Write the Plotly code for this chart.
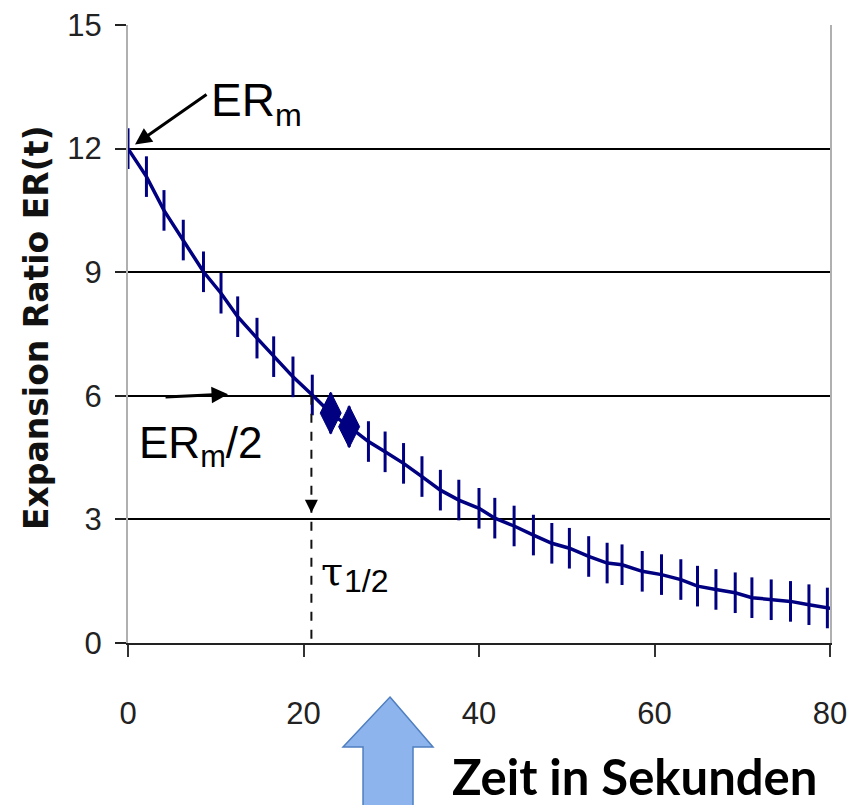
import plotly.graph_objects as go

# ---- data ----
time_s = [0, 2.1, 4.1, 6.3, 8.6, 10.6, 12.5, 14.7, 16.6, 18.8, 21.0, 23.1, 25.2, 27.4,
          29.3, 31.4, 33.5, 35.6, 37.7, 40.0, 41.8, 44.0, 46.2, 48.3, 50.3, 52.5, 54.6,
          56.3, 58.6, 60.8, 63.0, 64.9, 67.0, 69.2, 71.1, 73.3, 75.5, 77.6, 79.7, 81.2]
er_values = [12.0, 11.32, 10.5, 9.78, 9.01, 8.49, 7.92, 7.4, 6.95, 6.46, 6.02, 5.58, 5.25,
             4.89, 4.64, 4.36, 4.04, 3.71, 3.47, 3.27, 3.03, 2.84, 2.62, 2.42, 2.30, 2.10,
             1.94, 1.90, 1.74, 1.66, 1.54, 1.38, 1.30, 1.22, 1.10, 1.05, 1.01, 0.93, 0.85, 0.80]
diamond_t = [23.1, 25.2]
diamond_er = [5.58, 5.25]
x_ticks = [0, 20, 40, 60, 80]
y_ticks = [0, 3, 6, 9, 12, 15]
er_m = 12.0
er_half = 6.0
tau_half = 20.9

NAVY = "#000080"
SANS = "Liberation Sans, Arial, sans-serif"

W, H = 848, 805
ML, MR, MT, MB = 128, 18, 25, 162
PW, PH = W - ML - MR, H - MT - MB


def px(xp, yp):
    """page pixel position -> paper coordinates"""
    return (xp - ML) / PW, (H - MB - yp) / PH


fig = go.Figure()
fig.add_trace(go.Scatter(
    x=time_s, y=er_values, mode="lines+markers",
    line=dict(color=NAVY, width=3.5),
    marker=dict(symbol="line-ns", size=29, color=NAVY,
                line=dict(color=NAVY, width=3)),
    showlegend=False, hoverinfo="x+y"))
fig.add_trace(go.Scatter(
    x=diamond_t, y=diamond_er, mode="markers",
    marker=dict(symbol="diamond-tall", size=30, color=NAVY,
                line=dict(color=NAVY, width=1)),
    showlegend=False))

# dashed guide line at tau_1/2
fig.add_shape(type="line", x0=tau_half, x1=tau_half, y0=er_half, y1=-0.25,
              xref="x", yref="y", line=dict(color="#111", width=2, dash="dash"),
              layer="above")

annotations = [
    # ER_m arrow
    dict(x=0.8, y=12.1, xref="x", yref="y", ax=73, ay=-51, text="",
         showarrow=True, arrowhead=2, arrowsize=1.1, arrowwidth=3, arrowcolor="black"),
    dict(x=14.7, y=13.1, xref="x", yref="y", text="ER<sub>m</sub>", showarrow=False,
         font=dict(family=SANS, size=46, color="black")),
    # ER_m/2 arrow
    dict(x=11.4, y=6.04, xref="x", yref="y", ax=-64, ay=3, text="",
         showarrow=True, arrowhead=2, arrowsize=1.1, arrowwidth=3, arrowcolor="black"),
    dict(x=8.3, y=4.78, xref="x", yref="y", text="ER<sub>m</sub>/2", showarrow=False,
         font=dict(family=SANS, size=44, color="black")),
    # tau arrow head
    dict(x=tau_half, y=3.16, xref="x", yref="y", ax=0, ay=-14, text="",
         showarrow=True, arrowhead=2, arrowsize=1.3, arrowwidth=2, arrowcolor="black"),
    dict(x=23.3, y=1.75, xref="x", yref="y", text="τ", showarrow=False,
         font=dict(family="DejaVu Serif, serif", size=40, color="black")),
    dict(x=27.1, y=1.5, xref="x", yref="y", text="1/2", showarrow=False,
         font=dict(family=SANS, size=32, color="black")),
]

# y axis title (rotated)
tx, ty = px(36, 328)
annotations.append(dict(x=tx, y=ty, xref="paper", yref="paper", text="<b>Expansion Ratio ER(t)</b>",
                        textangle=-90, showarrow=False, xanchor="center", yanchor="middle",
                        font=dict(family="DejaVu Sans, sans-serif", size=33, color="#111")))
# x axis label
zx, zy = px(634, 776)
annotations.append(dict(x=zx, y=zy, xref="paper", yref="paper", text="<b>Zeit in Sekunden</b>",
                        showarrow=False, xanchor="center", yanchor="middle",
                        font=dict(family="Lato, Open Sans, sans-serif", size=49, color="black")))

# blue block arrow
pts = [(390, 697), (433, 747), (413, 747), (413, 812), (363, 812), (363, 747), (343, 747)]
path = ""
for i, (a, b) in enumerate(pts):
    xp, yp = px(a, b)
    path += ("M" if i == 0 else "L") + f"{xp:.4f},{yp:.4f} "
path += "Z"
fig.add_shape(type="path", path=path, xref="paper", yref="paper",
              fillcolor="#8db4ec", line=dict(color="#4f7fc0", width=1.5))

fig.update_layout(
    width=W, height=H,
    margin=dict(l=ML, r=MR, t=MT, b=MB, autoexpand=False),
    paper_bgcolor="white", plot_bgcolor="white",
    annotations=annotations,
    xaxis=dict(range=[0, 80], tickvals=x_ticks, ticks="outside", ticklen=12, tickwidth=1.5,
               tickcolor="#333", showgrid=False, zeroline=False, automargin=False,
               showline=True, linecolor="#222", linewidth=2,
               tickfont=dict(family=SANS, size=31, color="#222"), ticklabelstandoff=30,
               ticklabeloverflow="allow"),
    yaxis=dict(range=[0, 15], tickvals=y_ticks, ticks="outside", ticklen=11, tickwidth=1.5,
               tickcolor="#222", showgrid=True, gridcolor="black", gridwidth=1.5,
               zeroline=False, showline=True, linecolor="#b0b0b0", linewidth=2, mirror=True,
               automargin=False,
               tickfont=dict(family=SANS, size=31, color="#222"), ticklabelstandoff=7,
               ticklabeloverflow="allow"),
)

fig.write_html("out.html", config={"displayModeBar": False},
               post_script="document.body.style.margin='0';document.body.style.overflow='hidden';")
